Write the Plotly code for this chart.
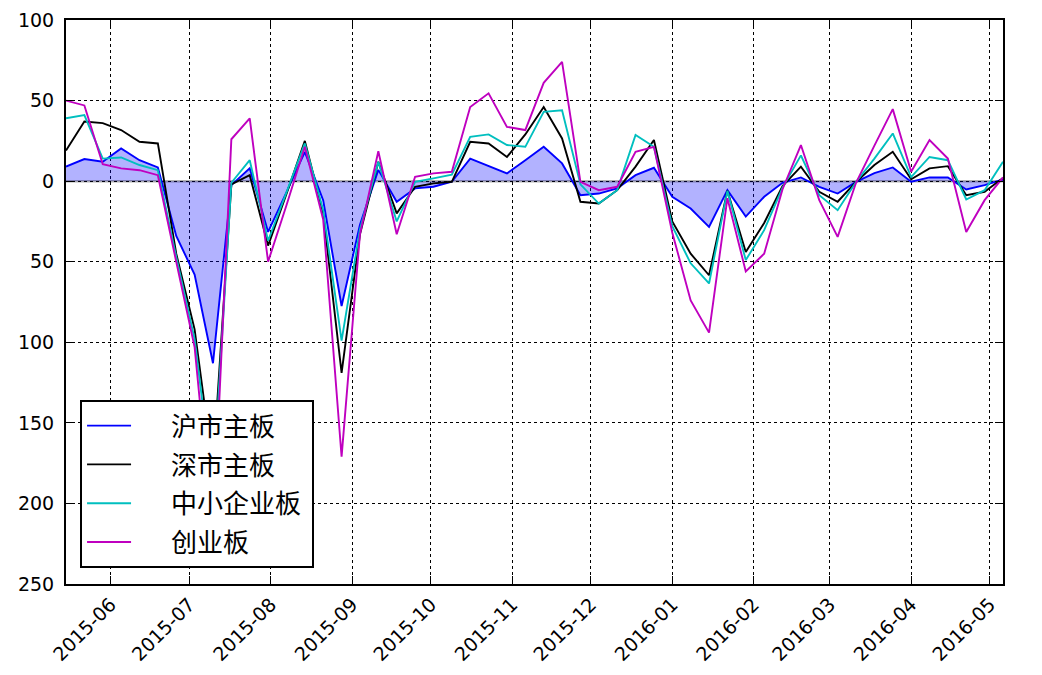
import pandas as pd
import plotly.graph_objects as go

dates = pd.date_range("2015-05-15", periods=52, freq="7D")

sh_main = [9, 13.7, 12, 20.3, 13, 8.5, -34, -58, -113, -2.5, 8, -31.5,
           -7, 18.2, -12, -77.5, -27, 7, -12.8, -4.5, -3.5, -0.4, 14, 9.3,
           4.8, 13, 21.3, 11, -8.7, -7.7, -4.5, 3.7, 8.3, -9.7, -17, -28.4,
           -5.6, -22, -9.7, -1, 2.3, -3.5, -7.7, -0.5, 5, 8.5, -0.4, 2.3,
           2.3, -5.2, -2.5, 1]
sz_main = [19, 37, 36, 31.7, 24.4, 23.4, -45, -92, -178, -2, 3.7, -40,
           -8, 25, -20, -119, -33, 12, -20, -3.5, -1.4, -0.4, 24.4, 23.4,
           15, 29, 46, 26.5, -12.8, -13.9, -5.6, 9, 25.5, -25, -45, -58.4,
           -6, -44, -26, -3, 9, -6.6, -12.8, -0.5, 10, 18.2, 1.2, 7.9,
           9.3, -8.7, -6.6, 2]
sme = [39, 41, 14, 14.7, 10, 6.8, -47, -98, -190, -1, 13, -37,
       -7, 23.4, -18, -99, -30, 12, -25, -0.4, 1.7, 4, 27.5, 29,
       22.4, 21.3, 43, 44, -2, -13.9, -5.6, 28.6, 21.3, -28, -51, -63.5,
       -6, -49, -30.4, -4, 16, -8.7, -18, -0.5, 14, 29.6, 2.5, 15,
       13, -11.4, -5.6, 12]
gem = [50, 47, 10.5, 7.9, 6.8, 3.7, -50, -103, -221, 26, 39, -50,
       -15, 21.3, -24, -171, -33, 18.5, -33, 2.7, 4.8, 5.8, 46, 54.5,
       33.7, 31.7, 61, 74, -0.4, -5.6, -3.5, 18.2, 21.3, -32, -74, -94,
       -10.6, -56, -45, -5, 22.4, -11.8, -34.6, -1, 22, 44.7, 5.8, 25.5,
       14, -31.5, -11.8, 2.3]

names = ["沪市主板", "深市主板", "中小企业板", "创业板"]
colors = ["#0000ff", "#000000", "#00bfbf", "#bf00bf"]
series = [sh_main, sz_main, sme, gem]

y_tickvals = [100, 50, 0, -50, -100, -150, -200, -250]
y_ticktext = ["100", "50", "0", "50", "100", "150", "200", "250"]
x_tickvals = pd.date_range("2015-06-01", "2016-05-01", freq="MS")
x_ticktext = [d.strftime("%Y-%m") for d in x_tickvals]

fig = go.Figure()
fig.add_trace(go.Scatter(x=dates, y=sh_main, mode="lines", line=dict(width=0),
                         fill="tozeroy", fillcolor="rgba(0,0,255,0.3)",
                         showlegend=False, hoverinfo="skip"))
fig.add_trace(go.Scatter(x=[dates[0], dates[-1]], y=[0, 0], mode="lines",
                         line=dict(color="rgba(0,0,0,0.3)", width=2.5),
                         showlegend=False, hoverinfo="skip"))
for nm, col, s in zip(names, colors, series):
    fig.add_trace(go.Scatter(x=dates, y=s, mode="lines",
                             name="\u00a0\u00a0\u00a0\u00a0\u00a0\u00a0" + nm + "\u00a0",
                             legendgroup=nm,
                             line=dict(color=col, width=1.9)))

axis_common = dict(showline=True, linecolor="black", linewidth=2, mirror="allticks",
                   ticks="inside", ticklen=8, tickcolor="black", tickwidth=1,
                   showgrid=True, gridcolor="black", griddash="dot", gridwidth=1,
                   zeroline=False, automargin=False)

fig.update_xaxes(range=[dates[0], dates[-1]], tickvals=x_tickvals, ticktext=x_ticktext,
                 tickangle=-45, tickfont=dict(family="DejaVu Sans", size=19, color="black"),
                 **axis_common)
fig.update_yaxes(range=[-250, 100], tickvals=y_tickvals, ticktext=y_ticktext,
                 tickfont=dict(family="DejaVu Sans", size=19, color="black"),
                 ticklabelstandoff=6, **axis_common)

fig.update_layout(
    width=1034, height=667,
    margin=dict(l=58, r=39, t=12, b=91),
    plot_bgcolor="white", paper_bgcolor="white",
    legend=dict(x=0.015, y=0.028, xanchor="left", yanchor="bottom",
                bgcolor="white", bordercolor="black", borderwidth=2,
                font=dict(family="Noto Sans CJK SC", size=26, color="black"),
                tracegroupgap=2, itemwidth=44),
)

fig.write_html("out.html")
